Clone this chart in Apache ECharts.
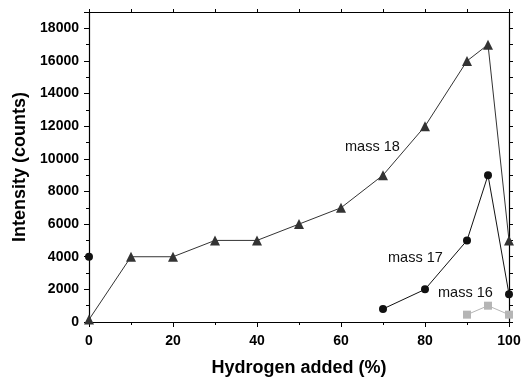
<!DOCTYPE html>
<html>
<head>
<meta charset="utf-8">
<script src="https://cdn.jsdelivr.net/npm/echarts@6/dist/echarts.min.js"></script>
<style>
  html, body { margin: 0; padding: 0; background: #fff; }
  #chart { width: 528px; height: 378px; }
</style>
</head>
<body>
<div id="chart"></div>
<script>
const hydrogen = [0, 10, 20, 30, 40, 50, 60, 70, 80, 90, 95, 100]
const mass18 = [150, 4000, 4000, 5000, 5000, 6000, 7000, 9000, 12000, 16000, 17000, 5000]
const mass17 = [4000, null, null, null, null, null, null, 800, 2000, 5000, 9000, 1700]
const mass16 = [null, null, null, null, null, null, null, null, null, 450, 1000, 450]
const seriesNames = ['mass 18', 'mass 17', 'mass 16']

const font = '"Liberation Sans", Arial, sans-serif'
const pairs = vals => hydrogen.map((x, i) => [x, vals[i]])

const chart = echarts.init(document.getElementById('chart'))

const frameAxis = {
  axisLine: { show: true, onZero: false, lineStyle: { color: '#000', width: 1.2 } },
  splitLine: { show: false }
}
const tickLabel = {
  color: '#000',
  fontFamily: font,
  fontWeight: 'bold',
  fontSize: 14
}
const nameStyle = { color: '#000', fontFamily: font, fontWeight: 'bold', fontSize: 18 }

chart.setOption({
  backgroundColor: '#ffffff',
  animation: false,
  grid: { left: 89, right: 19, top: 12, bottom: 56, outerBoundsMode: 'none', containLabel: false },
  xAxis: [{
    ...frameAxis,
    type: 'value',
    min: 0,
    max: 100,
    interval: 20,
    axisTick: { show: true, length: 5, lineStyle: { color: '#000' } },
    minorTick: { show: true, splitNumber: 2, length: 3, lineStyle: { color: '#000' } },
    axisLabel: { ...tickLabel, margin: 12 },
    name: 'Hydrogen added (%)',
    nameLocation: 'middle',
    nameGap: 37,
    nameTextStyle: nameStyle
  }, {
    ...frameAxis,
    type: 'value',
    position: 'top',
    min: 0,
    max: 100,
    interval: 20,
    axisTick: { show: true, length: 3, lineStyle: { color: '#000' } },
    minorTick: { show: true, splitNumber: 2, length: 3, lineStyle: { color: '#000' } },
    axisLabel: { show: false }
  }],
  yAxis: [{
    ...frameAxis,
    type: 'value',
    min: 0,
    max: 19000,
    interval: 2000,
    axisTick: { show: true, length: 5, lineStyle: { color: '#000' } },
    minorTick: { show: true, splitNumber: 2, length: 3, lineStyle: { color: '#000' } },
    axisLabel: { ...tickLabel, margin: 10, showMaxLabel: false, formatter: v => String(v) },
    name: 'Intensity (counts)',
    nameLocation: 'middle',
    nameGap: 60,
    nameTextStyle: nameStyle
  }, {
    ...frameAxis,
    type: 'value',
    position: 'right',
    min: 0,
    max: 19000,
    interval: 2000,
    axisTick: { show: true, length: 4, lineStyle: { color: '#000' } },
    minorTick: { show: true, splitNumber: 2, length: 4, lineStyle: { color: '#000' } },
    axisLabel: { show: false }
  }],
  series: [
    {
      name: seriesNames[2],
      type: 'line',
      data: pairs(mass16),
      symbol: 'rect',
      symbolSize: 8,
      lineStyle: { color: '#b5b5b5', width: 1 },
      itemStyle: { color: '#b5b5b5' }
    },
    {
      name: seriesNames[1],
      type: 'line',
      data: pairs(mass17),
      symbol: 'circle',
      symbolSize: 8,
      lineStyle: { color: '#111', width: 1 },
      itemStyle: { color: '#111' }
    },
    {
      name: seriesNames[0],
      type: 'line',
      data: pairs(mass18),
      symbol: 'triangle',
      symbolSize: 10,
      lineStyle: { color: '#333', width: 1 },
      itemStyle: { color: '#333' }
    }
  ],
  graphic: [
    { type: 'text', left: 345, top: 139, style: { text: seriesNames[0], fill: '#111', font: '14.5px ' + font } },
    { type: 'text', left: 388, top: 250, style: { text: seriesNames[1], fill: '#111', font: '14.5px ' + font } },
    { type: 'text', left: 438, top: 285, style: { text: seriesNames[2], fill: '#111', font: '14.5px ' + font } }
  ]
})
</script>
</body>
</html>
